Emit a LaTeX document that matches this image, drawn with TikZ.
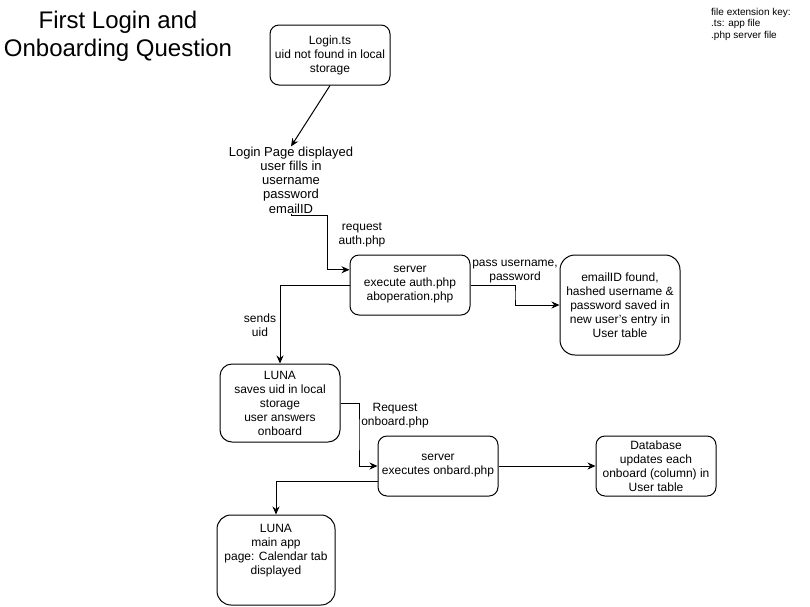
\documentclass[tikz,border=0pt]{standalone}
\usepackage{fontspec}
\setmainfont{Liberation Sans}
\usetikzlibrary{arrows.meta,calc}
\begin{document}
\begin{tikzpicture}[x=1pt,y=-1pt,
  box/.style={draw, line width=1pt, rounded corners=9pt, align=center, font=\fontsize{12}{14}\selectfont, inner sep=2pt, minimum width=120pt, minimum height=60pt},
  lbl/.style={align=center, font=\fontsize{12}{14}\selectfont, inner sep=0pt},
  arr/.style={draw, line width=1pt, -{Stealth[length=8pt,width=7pt]}}]
\useasboundingbox (0,0) rectangle (810,606);

\node[lbl, font=\fontsize{24}{28}\selectfont] (title) at (118,36.5) {First Login and\\Onboarding Question};
\node[lbl, font=\fontsize{10}{11.5}\selectfont, align=left, anchor=north west] (key) at (711,8) {file extension key:\\.ts: app file\\.php server file};

\node[box] (login) at (330,55) {Login.ts\\uid not found in local\\storage};
\node[lbl, font=\fontsize{13}{14.3}\selectfont] (page) at (291,180) {Login Page displayed\\user fills in\\username\\password\\emailID};
\node[box] (srv1) at (410,285) {server\\execute auth.php\\aboperation.php};
\node[box, minimum height=100pt, rounded corners=15pt] (email) at (620,305) {emailID found,\\hashed username \&\\password saved in\\new user's entry in\\User table};
\node[box, minimum height=78pt, rounded corners=12pt] (luna1) at (280,403) {LUNA\\saves uid in local\\storage\\user answers\\onboard};
\node[box] (srv2) at (438,466) {server\\executes onbard.php};
\node[box] (db) at (656,466) {Database\\updates each\\onboard (column) in\\User table};
\node[box, minimum width=118pt, minimum height=90pt, rounded corners=14pt] (luna2) at (276,560) {LUNA\\main app\\page: Calendar tab\\displayed\\[8pt]};

\node[lbl] (req1) at (362,235) {request\\auth.php};
\node[lbl] (pass) at (515,272) {pass username,\\password};
\node[lbl] (sends) at (260,325) {sends\\uid};
\node[lbl] (req2) at (395,416) {Request\\onboard.php};

\coordinate (e1) at (327,215);
\draw[arr] (login.south) -- (page.north);
\draw[arr] (page.south) |- (e1) |- ($(srv1.north west)!0.25!(srv1.south west)$);
\draw[arr] (srv1.east) -| ($(srv1.east)!0.5!(email.west)$) |- (email.west);
\draw[arr] (srv1.west) -| (luna1.north);
\draw[arr] (luna1.east) -| ($(luna1.east)!0.5!(srv2.west)$) |- (srv2.west);
\draw[arr] (srv2.east) -- (db.west);
\draw[arr] ($(srv2.north west)!0.75!(srv2.south west)$) -| (luna2.north);
\end{tikzpicture}
\end{document}
